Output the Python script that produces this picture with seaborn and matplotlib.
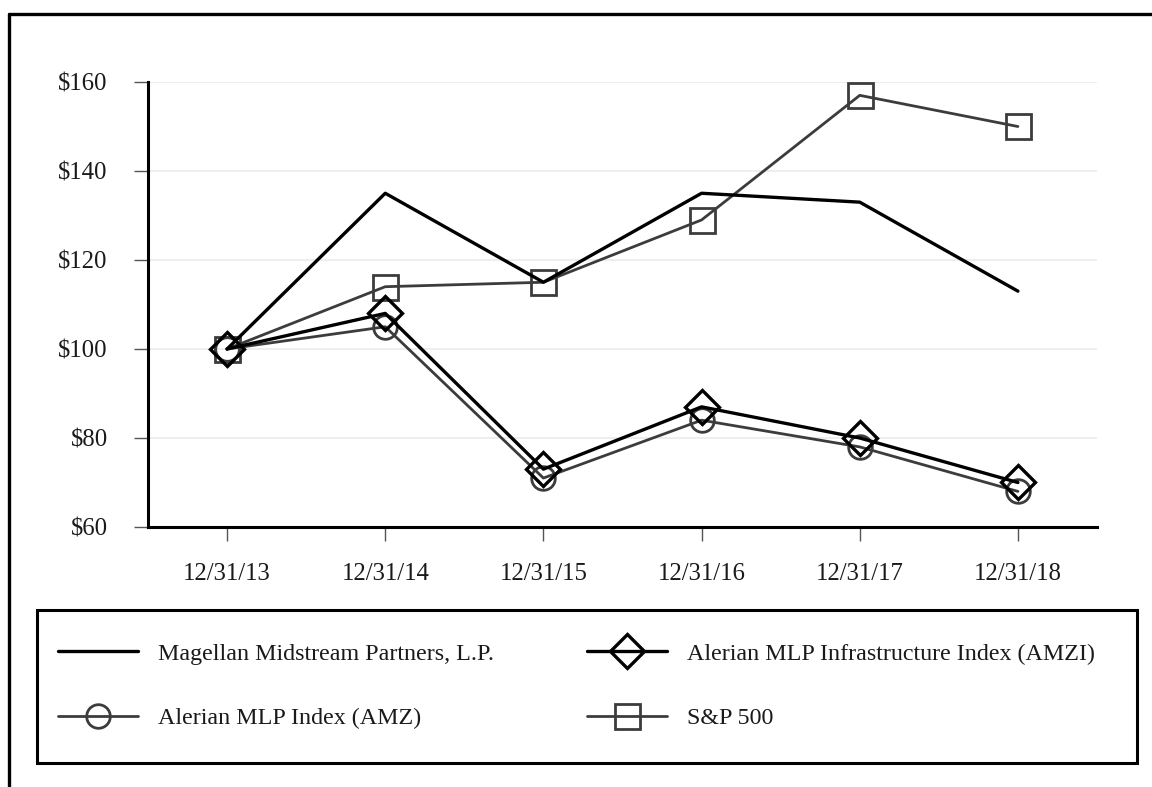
import matplotlib
matplotlib.use("Agg")
import matplotlib.pyplot as plt
from matplotlib.lines import Line2D
from matplotlib.patches import Rectangle
import seaborn as sns
import pandas as pd

# ---- data ----
dates = ["12/31/13", "12/31/14", "12/31/15", "12/31/16", "12/31/17", "12/31/18"]
magellan = [100, 135, 115, 135, 133, 113]
amzi = [100, 108, 73, 87, 80, 70]
amz = [100, 105, 71, 84, 78, 68]
sp500 = [100, 114, 115, 129, 157, 150]
y_ticks = [60, 80, 100, 120, 140, 160]
y_tick_labels = ["$60", "$80", "$100", "$120", "$140", "$160"]
names = ["Magellan Midstream Partners, L.P.", "Alerian MLP Infrastructure Index (AMZI)",
         "Alerian MLP Index (AMZ)", "S&P 500"]

sns.set_theme(style="white")
plt.rcParams["font.family"] = ["Liberation Serif", "DejaVu Serif"]

W, H = 1152, 787
fig = plt.figure(figsize=(W / 100, H / 100), dpi=100)
ax = fig.add_axes([148 / W, 1 - 527 / H, (1097 - 148) / W, (527 - 82) / H])

dark = "#000000"
gray = "#3c3c3c"

sns.lineplot(x=dates, y=sp500, ax=ax, sort=False, color=gray, lw=2.0,
             marker="s", markersize=18, fillstyle="none", markeredgewidth=2.0,
             markeredgecolor=gray, label=names[3])
sns.lineplot(x=dates, y=amz, ax=ax, sort=False, color=gray, lw=2.0,
             marker="o", markersize=17, fillstyle="none", markeredgewidth=2.0,
             markeredgecolor=gray, label=names[2])
sns.lineplot(x=dates, y=amzi, ax=ax, sort=False, color=dark, lw=2.4,
             marker="D", markersize=17.5, fillstyle="none", markeredgewidth=2.4,
             markeredgecolor=dark, label=names[1])
sns.lineplot(x=dates, y=magellan, ax=ax, sort=False, color=dark, lw=2.4,
             label=names[0])

if ax.get_legend() is not None:
    ax.get_legend().remove()

ax.set_xlim(-0.5, 5.5)
ax.set_ylim(60, 160)
ax.set_yticks(y_ticks)
ax.set_yticklabels(y_tick_labels)
ax.set_xlabel("")
ax.set_ylabel("")
ax.grid(axis="y", color="#ebebeb", lw=1.2)
ax.grid(axis="x", visible=False)
for s in ["top", "right"]:
    ax.spines[s].set_visible(False)
for s in ["left", "bottom"]:
    ax.spines[s].set_color("black")
    ax.spines[s].set_linewidth(2.2)
ax.tick_params(axis="both", which="major", length=10, width=1.0, color="#555555",
               labelsize=17.8, labelcolor="#1a1a1a", direction="out")
ax.tick_params(axis="y", pad=19, left=True)
ax.tick_params(axis="x", pad=16, bottom=True)

# legend
handles, labels = ax.get_legend_handles_labels()
hmap = dict(zip(labels, handles))
leg_kw = dict(frameon=False, fontsize=17.3, handlelength=3.35, handletextpad=0.82,
              labelspacing=1.78, borderpad=0, borderaxespad=0, loc="upper left",
              labelcolor="#1a1a1a")
fig.legend([hmap[names[0]], hmap[names[2]]], [names[0], names[2]],
           bbox_to_anchor=(58 / W, 1 - 643 / H), **leg_kw)
fig.legend([hmap[names[1]], hmap[names[3]]], [names[1], names[3]],
           bbox_to_anchor=(587 / W, 1 - 643 / H), **leg_kw)

# legend box
fig.add_artist(Rectangle((37 / W, 1 - 763 / H), (1137 - 37) / W, (763 - 610) / H,
                         transform=fig.transFigure, fill=False, edgecolor="black",
                         lw=2.2))
# outer frame (top and left edges)
fig.add_artist(Line2D([8.5 / W, 1.0], [1 - 13.5 / H, 1 - 13.5 / H],
                      transform=fig.transFigure, color="black", lw=2.4))
fig.add_artist(Line2D([8.5 / W, 8.5 / W], [1 - 13.5 / H, 0.0],
                      transform=fig.transFigure, color="black", lw=2.4))

fig.savefig("out.png", dpi=100)
